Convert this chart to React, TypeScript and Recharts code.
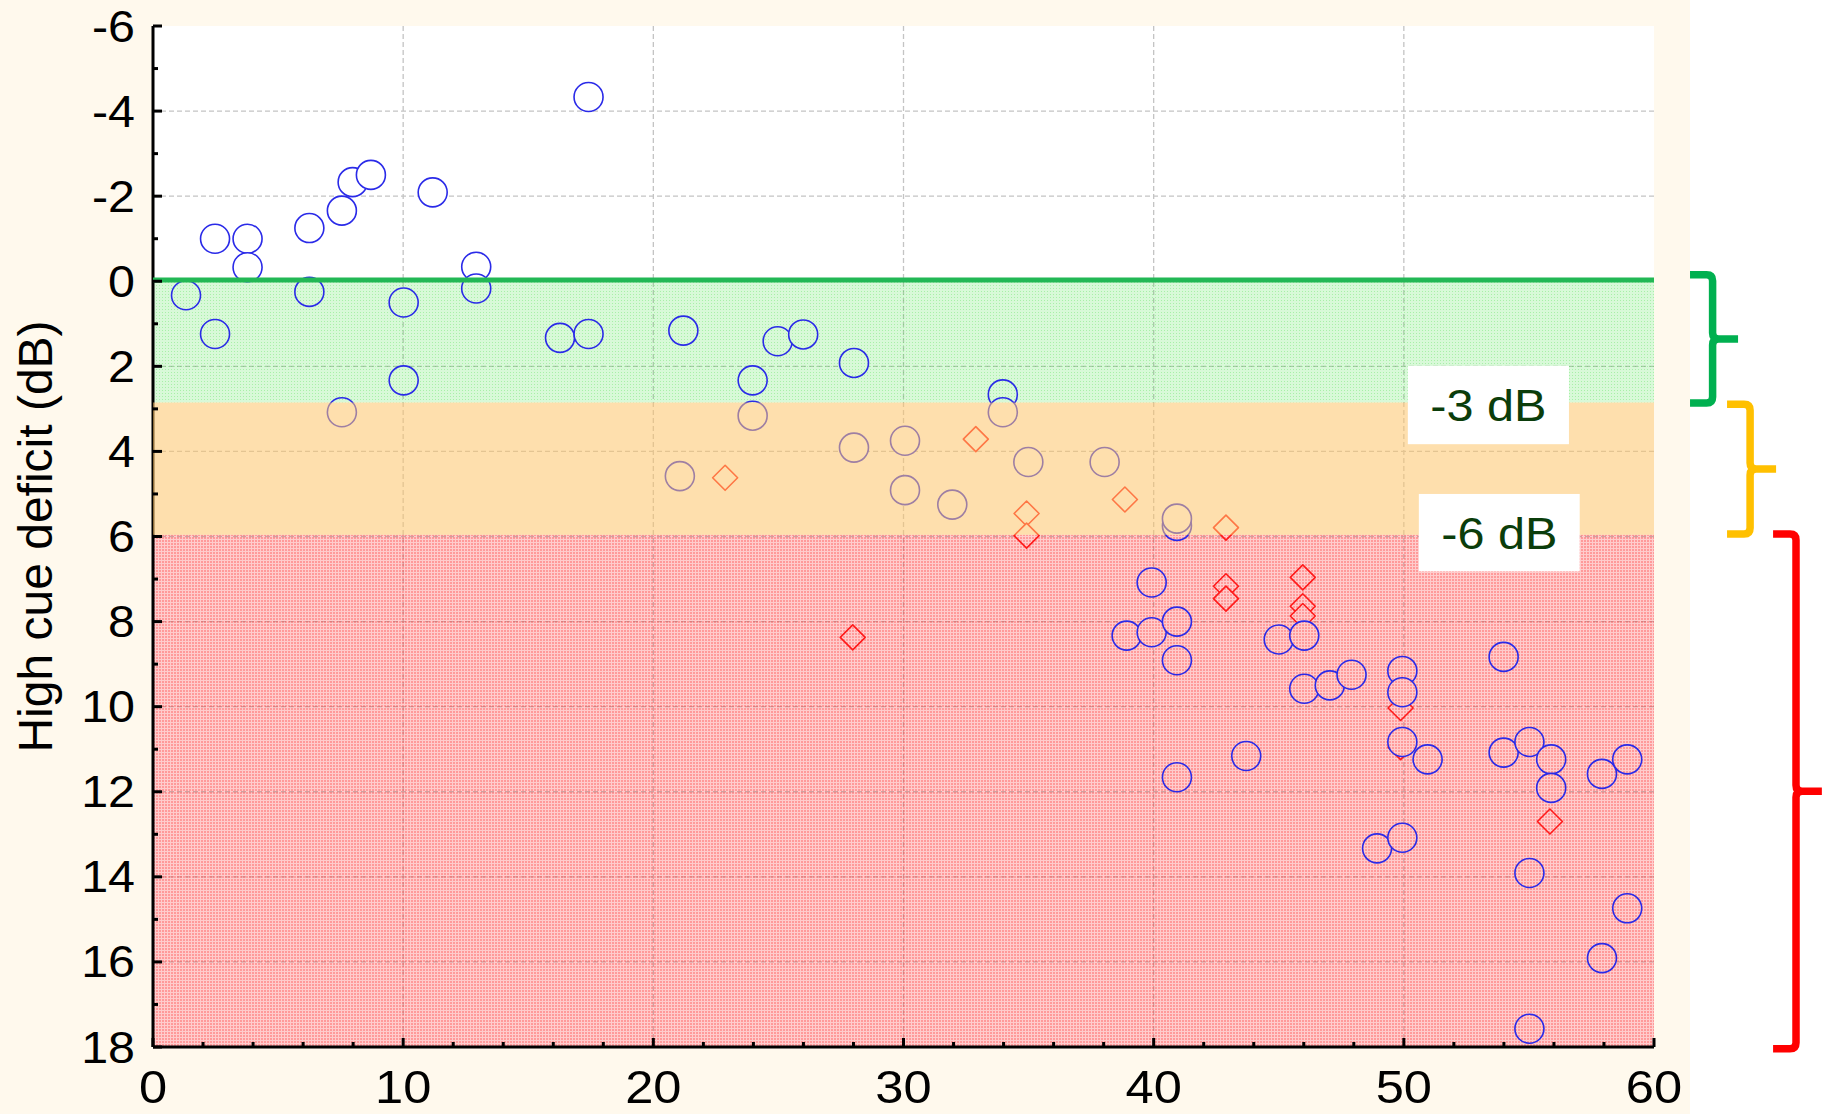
import React from 'react';
import {
  ScatterChart,
  Scatter,
  XAxis,
  YAxis,
  CartesianGrid,
  ReferenceArea,
  ReferenceLine,
} from 'recharts';

// ---------- data ----------
const circleX = [
  1.32, 2.48, 2.48, 3.78, 3.78, 6.25, 6.25, 7.55, 7.55, 7.98, 8.71, 10.02, 10.02, 11.18,
  12.92, 12.92, 16.27, 17.41, 17.41, 21.06, 21.2, 23.97, 23.97, 24.97, 25.99, 28.02, 28.02,
  30.06, 30.06, 31.95, 33.97, 33.97, 34.99, 38.04, 38.92, 39.92, 39.92, 40.93, 40.93, 40.93,
  40.93, 40.93, 43.7, 45.0, 46.02, 46.02, 47.04, 47.91, 48.93, 49.94, 49.94, 49.94, 49.94,
  50.95, 53.99, 53.99, 55.02, 55.02, 55.02, 55.89, 55.89, 57.92, 57.92, 58.93, 58.93,
];
const circleY = [
  0.33, -1.0, 1.24, -1.0, -0.33, -1.25, 0.25, -1.66, 3.08, -2.33, -2.5, 0.5, 2.33, -2.09,
  -0.34, 0.17, 1.33, -4.33, 1.24, 4.58, 1.16, 2.33, 3.16, 1.41, 1.25, 1.92, 3.91,
  3.75, 4.91, 5.25, 2.66, 3.08, 4.25, 4.25, 8.33, 7.08, 8.25, 5.75, 5.58, 8.0,
  8.91, 11.66, 11.16, 8.42, 8.33, 9.58, 9.5, 9.25, 13.33, 9.16, 9.66, 10.83, 13.08,
  11.24, 8.83, 11.08, 10.83, 13.91, 17.57, 11.24, 11.91, 11.58, 15.91, 11.24, 14.74,
];
const diamondX = [
  22.87, 27.97, 32.89, 34.92, 34.92, 38.85, 42.89, 42.89, 42.89, 45.96, 45.96, 45.96,
  49.87, 49.87, 55.84,
];
const diamondY = [
  4.62, 8.37, 3.71, 5.46, 5.98, 5.13, 5.79, 7.17, 7.46, 6.96, 7.64, 7.87,
  10.03, 10.95, 12.7,
];

const xMajorTicks = [0, 10, 20, 30, 40, 50, 60];
const xAllTicks = [0, 2, 4, 6, 8, 10, 12, 14, 16, 18, 20, 22, 24, 26, 28, 30, 32, 34, 36, 38, 40, 42, 44, 46, 48, 50, 52, 54, 56, 58, 60];
const yMajorTicks = [-6, -4, -2, 0, 2, 4, 6, 8, 10, 12, 14, 16, 18];
const yAllTicks = [-6, -5, -4, -3, -2, -1, 0, 1, 2, 3, 4, 5, 6, 7, 8, 9, 10, 11, 12, 13, 14, 15, 16, 17, 18];

// zone limits (dB)
const Y_MIN = -6;
const Y_MAX = 18;
const GREEN_END = 2.85;
const ORANGE_END = 5.96;

const circles = circleX.map((x, i) => ({ x, y: circleY[i] }));
const diamonds = diamondX.map((x, i) => ({ x, y: diamondY[i] }));

const FONT = '"Liberation Sans", Arial, sans-serif';

// ---------- shapes ----------
const CircleShape = (p: any) => (
  <circle cx={p.cx} cy={p.cy} r={14.5} fill="url(#bgPat)" stroke="#2a2ae8" strokeWidth={1.6} />
);

const DiamondShape = (p: any) => {
  const { cx, cy } = p;
  const d = 12.5;
  return (
    <path
      d={`M${cx},${cy - d} L${cx + d},${cy} L${cx},${cy + d} L${cx - d},${cy} Z`}
      fill="url(#bgPat)"
      stroke="#ff1a1a"
      strokeWidth={1.6}
      strokeLinejoin="round"
    />
  );
};

// ---------- ticks ----------
const BottomTick = (p: any) => {
  const { x, y, payload } = p;
  const v = payload.value;
  const major = xMajorTicks.includes(v);
  return (
    <g>
      <line x1={x} y1={y} x2={x} y2={y - (major ? 9 : 5)} stroke="#000" strokeWidth={3} />
      {major && (
        <text
          transform={`translate(${x},${y + 56}) scale(1.1,1)`}
          textAnchor="middle"
          fontSize={46}
          fontFamily={FONT}
          fill="#000"
        >
          {v}
        </text>
      )}
    </g>
  );
};

const TopTick = (p: any) => {
  const { x, y, payload } = p;
  const major = xMajorTicks.includes(payload.value);
  return <line x1={x} y1={y} x2={x} y2={y + (major ? 9 : 5)} stroke="#000" strokeWidth={3} />;
};

const LeftTick = (p: any) => {
  const { x, y, payload } = p;
  const v = payload.value;
  const major = yMajorTicks.includes(v);
  return (
    <g>
      <line x1={x} y1={y} x2={x + (major ? 9 : 5)} y2={y} stroke="#000" strokeWidth={3} />
      {major && (
        <text
          transform={`translate(${x - 18},${y + 15.5}) scale(1.1,1)`}
          textAnchor="end"
          fontSize={44}
          fontFamily={FONT}
          fill="#000"
        >
          {v}
        </text>
      )}
    </g>
  );
};

const RightTick = (p: any) => {
  const { x, y, payload } = p;
  const major = yMajorTicks.includes(payload.value);
  return <line x1={x} y1={y} x2={x - (major ? 9 : 5)} y2={y} stroke="#000" strokeWidth={3} />;
};

// ---------- bands ----------
const PatternDefs = (p: any) => {
  const yPix = (v: number) => p.y + ((v - Y_MIN) / (Y_MAX - Y_MIN)) * p.height;
  return (
    <defs>
      <pattern id="redPat" x="0" y="0" width="3" height="3" patternUnits="userSpaceOnUse">
        <rect x="0" y="0" width="3" height="3" fill="#ff2828" fillOpacity={0.24} />
        <rect x="0" y="0" width="2" height="2" fill="#ff2828" fillOpacity={0.3} />
      </pattern>
      <pattern id="greenPat" x="0" y="0" width="3" height="3" patternUnits="userSpaceOnUse">
        <rect x="0" y="0" width="3" height="3" fill="#3ce03c" fillOpacity={0.2} />
        <rect x="0" y="0" width="1" height="1" fill="#3ce03c" fillOpacity={0.3} />
      </pattern>
      <pattern id="bgPat" x="0" y="0" width="1827" height="1114" patternUnits="userSpaceOnUse">
        <rect x="0" y="0" width="1827" height="1114" fill="#ffffff" />
        <rect x={p.x} y={yPix(0)} width={p.width} height={yPix(GREEN_END) - yPix(0)} fill="url(#greenPat)" />
        <rect x={p.x} y={yPix(ORANGE_END)} width={p.width} height={yPix(Y_MAX) - yPix(ORANGE_END)} fill="url(#redPat)" />
      </pattern>
    </defs>
  );
};

const PatternBand = (id: string) => (p: any) => (
  <rect x={p.x} y={p.y} width={p.width} height={p.height} fill={`url(#${id})`} />
);

const OrangeBand = (p: any) => (
  <rect x={p.x} y={p.y} width={p.width} height={p.height} fill="#fdc46a" fillOpacity={0.55} />
);

const makeLabelBox = (text: string) => (p: any) => {
  const cx = p.x + p.width / 2;
  const cy = p.y + p.height / 2;
  return (
    <g>
      <rect x={p.x} y={p.y} width={p.width} height={p.height} fill="#ffffff" />
      <text
        transform={`translate(${cx},${cy + 16}) scale(1.08,1)`}
        textAnchor="middle"
        fontSize={45}
        fontFamily={FONT}
        fill="#0b3d0b"
      >
        {text}
      </text>
    </g>
  );
};

const makeBrace = (color: string) => (p: any) => {
  const { x, y, width: w, height: h } = p;
  const xv = x + w * 0.47;
  const ym = y + h / 2;
  const r = 6;
  const d = [
    `M${x},${y} L${xv - r},${y} Q${xv},${y} ${xv},${y + r}`,
    `L${xv},${ym - r} Q${xv},${ym} ${xv + r},${ym} L${x + w},${ym}`,
    `M${xv + r},${ym} Q${xv},${ym} ${xv},${ym + r}`,
    `L${xv},${y + h - r} Q${xv},${y + h} ${xv - r},${y + h} L${x},${y + h}`,
  ].join(' ');
  return <path d={d} fill="none" stroke={color} strokeWidth={7.5} strokeLinejoin="round" />;
};

const YTitle = (p: any) => {
  const vb = p.viewBox || { x: 0, y: 26, width: 153, height: 1021 };
  const cy = vb.y + vb.height / 2;
  const tx = vb.x + 52;
  return (
    <text
      x={tx}
      y={cy}
      transform={`rotate(-90, ${tx}, ${cy})`}
      textAnchor="middle"
      fontSize={48}
      fontFamily={FONT}
      fill="#000"
    >
      High cue deficit (dB)
    </text>
  );
};

const gridX = [10, 20, 30, 40, 50];
const gridY = [-4, -2, 0, 2, 4, 6, 8, 10, 12, 14, 16];

export default function App() {
  return (
    <div
      style={{
        position: 'absolute',
        left: 0,
        top: 0,
        width: 1827,
        height: 1114,
        background: 'linear-gradient(to right, #fff9ed 0px, #fff9ed 1690px, #ffffff 1690px)',
        fontFamily: FONT,
      }}
    >
      <ScatterChart
        width={1827}
        height={1114}
        margin={{ top: 26, right: 173, bottom: 0, left: 0 }}
      >
        <CartesianGrid fill="#ffffff" horizontal={false} vertical={false} />
        <ReferenceArea x1={0} x2={60} y1={Y_MIN} y2={Y_MAX} shape={PatternDefs} zIndex={-60} />
        {gridX.map((v) => (
          <ReferenceLine key={`gx${v}`} x={v} stroke="#c4c4c4" strokeWidth={1.3} strokeDasharray="5 3" zIndex={-50} />
        ))}
        {gridY.map((v) => (
          <ReferenceLine key={`gy${v}`} y={v} stroke="#c4c4c4" strokeWidth={1.3} strokeDasharray="5 3" zIndex={-50} />
        ))}
        <ReferenceArea x1={0} x2={60} y1={0} y2={GREEN_END} shape={PatternBand('greenPat')} zIndex={-40} />
        <ReferenceArea x1={0} x2={60} y1={ORANGE_END} y2={Y_MAX} shape={PatternBand('redPat')} zIndex={-40} />
        <XAxis
          xAxisId="top"
          orientation="top"
          type="number"
          domain={[0, 60]}
          allowDataOverflow
          ticks={xAllTicks}
          interval={0}
          height={0}
          tickSize={0}
          tickMargin={0}
          tickLine={false}
          axisLine={{ stroke: '#000', strokeWidth: 3 }}
          tick={TopTick}
        />
        <YAxis
          yAxisId="right"
          orientation="right"
          type="number"
          domain={[Y_MIN, Y_MAX]}
          reversed
          allowDataOverflow
          ticks={yAllTicks}
          interval={0}
          width={0}
          tickSize={0}
          tickMargin={0}
          tickLine={false}
          axisLine={{ stroke: '#000', strokeWidth: 3 }}
          tick={RightTick}
        />
        <XAxis
          dataKey="x"
          type="number"
          domain={[0, 60]}
          allowDataOverflow
          ticks={xAllTicks}
          interval={0}
          height={67}
          tickSize={0}
          tickMargin={0}
          tickLine={false}
          axisLine={{ stroke: '#000', strokeWidth: 3 }}
          tick={BottomTick}
        />
        <YAxis
          dataKey="y"
          type="number"
          domain={[Y_MIN, Y_MAX]}
          reversed
          allowDataOverflow
          ticks={yAllTicks}
          interval={0}
          width={153}
          tickSize={0}
          tickMargin={0}
          tickLine={false}
          axisLine={{ stroke: '#000', strokeWidth: 3 }}
          tick={LeftTick}
          label={{ content: YTitle }}
        />
        <Scatter data={diamonds} shape={DiamondShape} isAnimationActive={false} />
        <Scatter data={circles} shape={CircleShape} isAnimationActive={false} />

        <ReferenceArea x1={0} x2={60} y1={GREEN_END} y2={ORANGE_END} shape={OrangeBand} zIndex={700} />
        <ReferenceLine y={-0.03} stroke="#22b855" strokeWidth={5} zIndex={800} />

        <ReferenceArea x1={50.16} x2={56.6} y1={1.99} y2={3.83} shape={makeLabelBox('-3 dB')} zIndex={900} />
        <ReferenceArea x1={50.6} x2={57.03} y1={5.0} y2={6.82} shape={makeLabelBox('-6 dB')} zIndex={900} />

        <ReferenceArea x1={61.44} x2={63.36} y1={-0.15} y2={2.86} ifOverflow="visible" shape={makeBrace('#00b050')} zIndex={900} />
        <ReferenceArea x1={62.92} x2={64.88} y1={2.89} y2={5.94} ifOverflow="visible" shape={makeBrace('#ffc000')} zIndex={900} />
        <ReferenceArea x1={64.76} x2={66.71} y1={5.94} y2={18.04} ifOverflow="visible" shape={makeBrace('#ff0000')} zIndex={900} />
      </ScatterChart>
    </div>
  );
}
